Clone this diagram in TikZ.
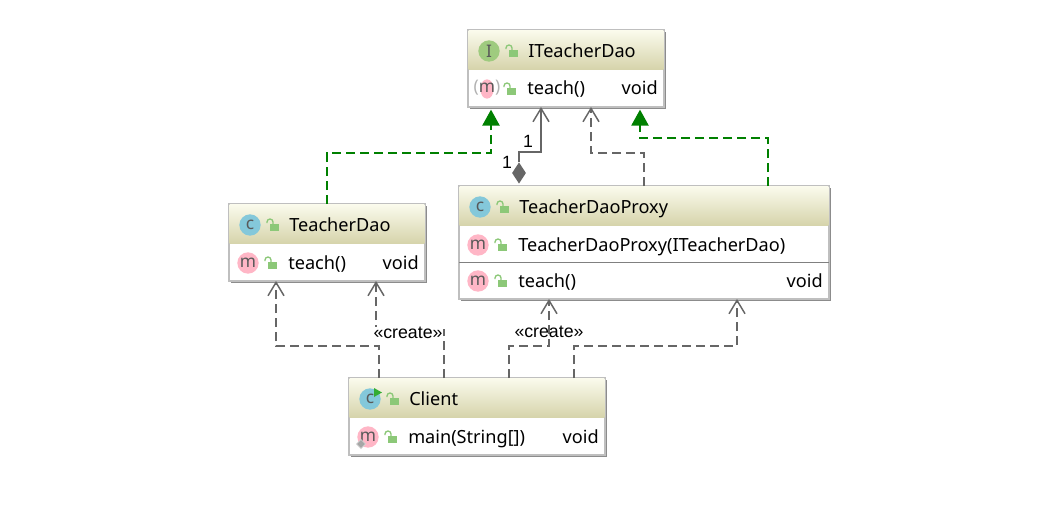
\documentclass[tikz,border=0pt]{standalone}
\usepackage{fontspec}
\setmainfont{Noto Sans}
\newfontfamily\labelfont{Liberation Sans}
\usepackage{xcolor}
\usepackage{tikz}
\usetikzlibrary{arrows.meta,positioning,shapes.geometric,shadows,calc}
\definecolor{headtop}{HTML}{FAFAEC}
\definecolor{headbot}{HTML}{D6D4AB}
\definecolor{iconc}{HTML}{84C8DA}
\definecolor{iconm}{HTML}{FFB6C6}
\definecolor{iconi}{HTML}{9FCB7F}
\definecolor{lockgreen}{HTML}{8CC878}
\definecolor{lineg}{HTML}{666666}
\definecolor{impl}{HTML}{008000}

\begin{document}
\begin{tikzpicture}[
    x=0.75pt, y=-0.75pt,
    classbox/.style={rectangle, draw=gray!50, line width=.8pt, fill=white, inner sep=0pt, outer sep=0pt,
                minimum width=#1, drop shadow={fill=gray!90, opacity=1, shadow xshift=1.2pt, shadow yshift=-1.2pt}},
    head/.style={rectangle, top color=headtop, bottom color=headbot, inner sep=0pt, outer sep=0pt,
                minimum height=29pt, minimum width=#1, anchor=north west},
    label/.style={font=\fontsize{13.6}{15}\selectfont, inner sep=0pt, anchor=west, text=black,
                text height=11pt, text depth=2pt},
    icon/.style={circle, fill=#1, inner sep=0pt, minimum size=16pt,
                font=\fontsize{13}{13}\selectfont, text=black!65},
    tag/.style={font=\labelfont\fontsize{13.3}{15}\selectfont, inner sep=0pt, text=black},
    dep/.style={draw=lineg, line width=1.1pt, dash pattern=on 7pt off 3.5pt,
                -{Straight Barb[length=10pt,width=12pt,line width=1.1pt]}},
    use/.style={draw=lineg, line width=1.1pt, -{Straight Barb[length=10pt,width=12pt,line width=1.1pt]}},
    real/.style={draw=impl, line width=1.1pt, dash pattern=on 7pt off 3.5pt,
                -{Triangle[length=12pt,width=13pt]}, shorten >=2pt},
    lock/.pic={
        \fill[lockgreen] (-2,-1) rectangle (7,6);
        \draw[lockgreen, line width=1pt] (1,-1) -- (1,-3) arc[start angle=0, end angle=-180, radius=3] -- (-5,-2);
    }
]
\useasboundingbox (0,0) rectangle (1044,514);
% interface
\node[classbox=147pt, minimum height=57.75pt, anchor=north west] (iteacherdao) at (468,30) {};
\node[head=146pt] (iteacherdaohead) at ($(iteacherdao.north west)+(.5pt,-.5pt)$) {};
\node[icon=iconi] (iteacherdaoicon) at (489,51) {\bfseries\rmfamily I};
\pic at (511,51) {lock};
\node[label] (iteacherdaoname) at (528,51) {ITeacherDao};
\node[ellipse, fill=iconm, inner sep=0pt, minimum width=10pt, minimum height=14.5pt] (iteacherback) at (487,89) {};
\node[text=black!65, inner sep=0pt, font=\fontsize{13}{13}\selectfont] (iteachericon) at (487,88) {\textcolor{gray!60}{(}m\textcolor{gray!60}{)}};
\pic at (509,89) {lock};
\node[label] (iteachername) at (527,88.5) {teach()};
\node[label, anchor=east] (iteachertype) at (658,88.5) {void};

% plain class
\node[classbox=147pt, minimum height=57.75pt, anchor=north west] (teacherdao) at (229,204) {};
\node[head=146pt] (teacherdaohead) at ($(teacherdao.north west)+(.5pt,-.5pt)$) {};
\node[icon=iconc] (teacherdaoicon) at (250,225) {c};
\pic at (272,225) {lock};
\node[label] (teacherdaoname) at (289,225) {TeacherDao};
\node[icon=iconm] (teachericon) at (248,263) {m};
\pic at (270,263) {lock};
\node[label] (teachername) at (288,263) {teach()};
\node[label, anchor=east] (teachertype) at (419,263) {void};

% proxy
\node[classbox=277.5pt, minimum height=84.75pt, anchor=north west] (proxy) at (459,186) {};
\node[head=276.5pt] (proxyhead) at ($(proxy.north west)+(.5pt,-.5pt)$) {};
\node[icon=iconc] (proxyicon) at (480,207) {c};
\pic at (502,207) {lock};
\node[label] (proxyname) at (519,207) {TeacherDaoProxy};
\node[icon=iconm] (ctoricon) at (478,245) {m};
\pic at (500,245) {lock};
\node[label] (ctorname) at (518,245) {TeacherDaoProxy(ITeacherDao)};
\draw[gray, line width=.7pt] (proxy.west |- 0,262) -- (proxy.east |- 0,262);
\node[icon=iconm] (proxyteachicon) at (478,281) {m};
\pic at (500,281) {lock};
\node[label] (proxyteachname) at (518,281) {teach()};
\node[label, anchor=east] (proxyteachtype) at (823,281) {void};

% client
\node[classbox=192pt, minimum height=57.75pt, anchor=north west] (client) at (349,378) {};
\node[head=191pt] (clienthead) at ($(client.north west)+(.5pt,-.5pt)$) {};
\node[icon=iconc] (clienticon) at (370,399) {c};
\fill[green!60!black!80!white] (374,388) -- (382,392.5) -- (374,397) -- cycle;
\pic at (392,399) {lock};
\node[label] (clientname) at (409,399) {Client};
\node[icon=iconm] (mainicon) at (368,437) {m};
\node[diamond, fill=gray!70, draw=gray!30, line width=.5pt, inner sep=0pt, minimum size=7pt] (mainmark) at (361,444) {};
\pic at (390,437) {lock};
\node[label] (mainname) at (408,437) {main(String[])};
\node[label, anchor=east] (maintype) at (599,437) {void};

% connectors
\node[diamond, fill=lineg, inner sep=0pt, aspect=.7, minimum height=16pt, minimum width=10.5pt] (aggr) at (519,173) {};
\draw[real] (teacherdao.north) -- ++(0,-51) -| ([xshift=-56.25pt]iteacherdao.south);
\draw[real] ([xshift=93pt]proxy.north) -- ++(0,-48) -| ([xshift=55.5pt]iteacherdao.south);
\draw[dep] (proxy.north) -- ++(0,-33) -| ([xshift=18.75pt]iteacherdao.south);
\draw[use] (aggr.north) -- ++(0,-10) -| ([xshift=-18.75pt]iteacherdao.south);
\draw[dep] ([xshift=-73.5pt]client.north) -- ++(0,-32) -| ([xshift=-38.25pt]teacherdao.south);
\draw[dep] ([xshift=-24.75pt]client.north) -- ++(0,-48) -| ([xshift=36.75pt]teacherdao.south);
\draw[dep] ([xshift=24pt]client.north) -- ++(0,-32) -| ([xshift=-71.25pt]proxy.south);
\draw[dep] ([xshift=72.75pt]client.north) -- ++(0,-32) -| ([xshift=69.75pt]proxy.south);

\node[tag] (mult1) at (528,141) {1};
\node[tag] (mult2) at (507,162) {1};
\node[tag, fill=white] (create1) at (408,333) {«create»};
\node[tag] (create2) at (549,332) {«create»};
\end{tikzpicture}
\end{document}
